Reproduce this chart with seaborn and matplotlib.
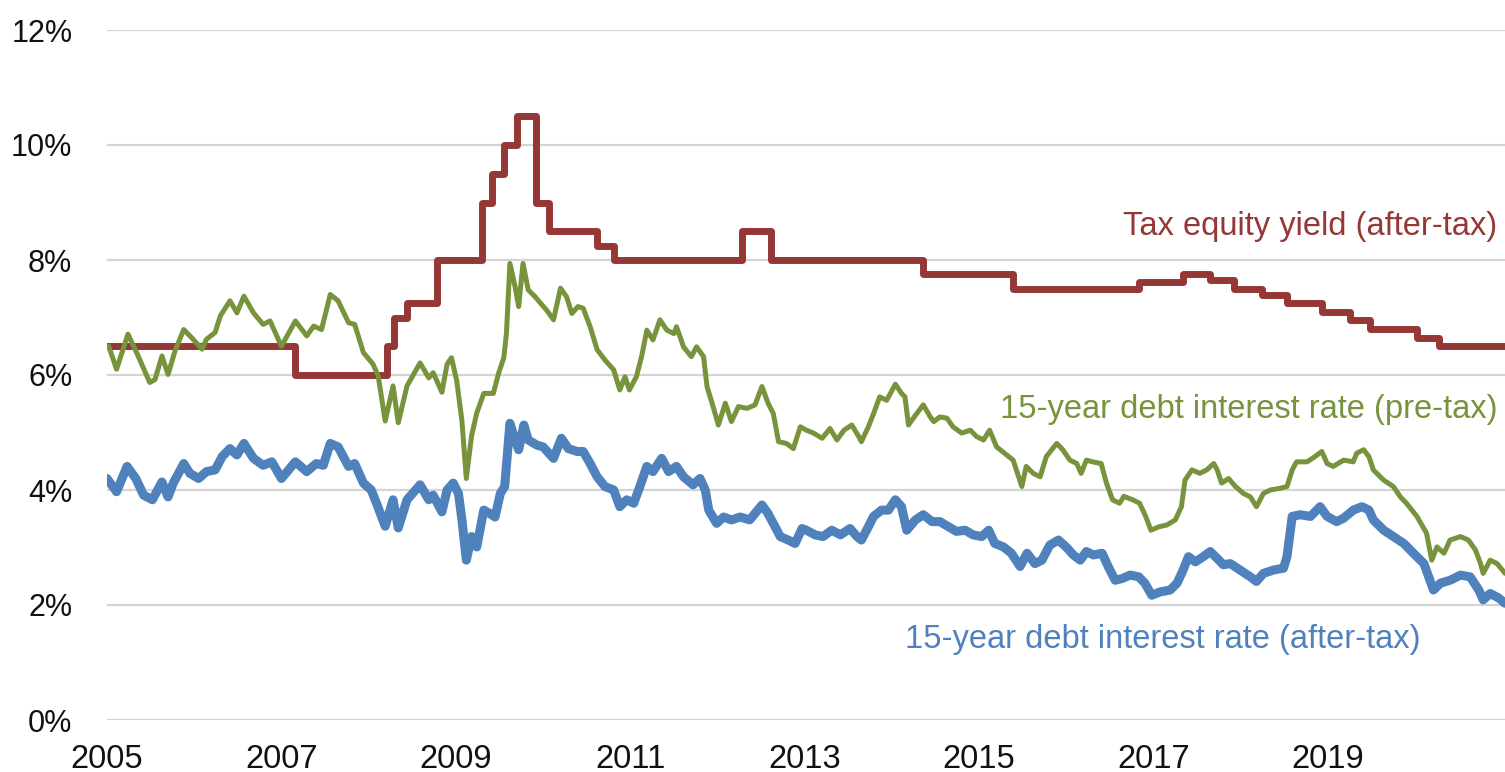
import pandas as pd
import matplotlib.pyplot as plt
import seaborn as sns

sns.set_style("white")
plt.rcParams['font.family'] = ['Liberation Sans', 'DejaVu Sans']

# tax equity yield (after-tax), step changes: year where the level starts
equity_years = [2005.0, 2007.15, 2008.21, 2008.29, 2008.44, 2008.78, 2009.30, 2009.41,
                2009.55, 2009.70, 2009.92, 2010.07, 2010.62, 2010.81, 2012.28, 2012.61,
                2014.36, 2015.39, 2016.83, 2017.34, 2017.65, 2017.92, 2018.24, 2018.53,
                2018.93, 2019.25, 2019.48, 2020.02, 2020.27, 2021.03]
equity_rate = [6.5, 6.0, 6.5, 7.0, 7.25, 8.0, 9.0, 9.5,
               10.0, 10.5, 9.0, 8.5, 8.25, 8.0, 8.5, 8.0,
               7.75, 7.5, 7.62, 7.75, 7.65, 7.5, 7.4, 7.25,
               7.1, 6.95, 6.8, 6.65, 6.5, 6.5]

# 15-year debt interest rate (pre-tax)
pre_years = [2005.02, 2005.11, 2005.24, 2005.34, 2005.49, 2005.55, 2005.63, 2005.70, 2005.78, 2005.88,
             2005.97, 2006.09, 2006.14, 2006.24, 2006.30, 2006.41, 2006.49, 2006.57, 2006.68, 2006.79,
             2006.87, 2007.00, 2007.16, 2007.29, 2007.37, 2007.46, 2007.56, 2007.65, 2007.77, 2007.84,
             2007.94, 2008.05, 2008.11, 2008.19, 2008.28, 2008.34, 2008.44, 2008.59, 2008.69, 2008.74,
             2008.84, 2008.90, 2008.95, 2009.01, 2009.07, 2009.12, 2009.18, 2009.24, 2009.32, 2009.43,
             2009.49, 2009.55, 2009.58, 2009.62, 2009.68, 2009.72, 2009.77, 2009.83, 2009.91, 2009.97,
             2010.04, 2010.12, 2010.20, 2010.27, 2010.33, 2010.40, 2010.46, 2010.54, 2010.62, 2010.71,
             2010.81, 2010.88, 2010.94, 2010.99, 2011.07, 2011.13, 2011.19, 2011.26, 2011.34, 2011.42,
             2011.50, 2011.53, 2011.61, 2011.70, 2011.76, 2011.84, 2011.88, 2011.95, 2012.01, 2012.09,
             2012.16, 2012.24, 2012.34, 2012.43, 2012.51, 2012.58, 2012.64, 2012.70, 2012.79, 2012.87,
             2012.95, 2013.02, 2013.10, 2013.20, 2013.29, 2013.37, 2013.45, 2013.54, 2013.62, 2013.65,
             2013.73, 2013.79, 2013.86, 2013.94, 2014.04, 2014.11, 2014.15, 2014.19, 2014.27, 2014.36,
             2014.44, 2014.48, 2014.55, 2014.63, 2014.70, 2014.80, 2014.90, 2014.97, 2015.05, 2015.12,
             2015.20, 2015.29, 2015.39, 2015.49, 2015.54, 2015.62, 2015.70, 2015.77, 2015.89, 2015.96,
             2016.04, 2016.12, 2016.17, 2016.23, 2016.30, 2016.40, 2016.46, 2016.53, 2016.61, 2016.66,
             2016.76, 2016.84, 2016.91, 2016.97, 2017.06, 2017.15, 2017.25, 2017.32, 2017.36, 2017.44,
             2017.53, 2017.61, 2017.69, 2017.73, 2017.78, 2017.86, 2017.94, 2018.03, 2018.11, 2018.18,
             2018.26, 2018.34, 2018.45, 2018.53, 2018.59, 2018.64, 2018.76, 2018.85, 2018.93, 2018.99,
             2019.06, 2019.18, 2019.29, 2019.33, 2019.41, 2019.47, 2019.52, 2019.64, 2019.75, 2019.83,
             2019.90, 2020.02, 2020.13, 2020.19, 2020.25, 2020.33, 2020.40, 2020.52, 2020.61, 2020.69,
             2020.75, 2020.78, 2020.86, 2020.94, 2021.03]
pre_rate = [6.50, 6.10, 6.71, 6.39, 5.87, 5.92, 6.33, 6.01, 6.42, 6.79,
            6.65, 6.45, 6.62, 6.74, 7.03, 7.29, 7.08, 7.37, 7.08, 6.88,
            6.94, 6.50, 6.94, 6.68, 6.85, 6.79, 7.40, 7.29, 6.91, 6.88,
            6.39, 6.19, 5.98, 5.20, 5.81, 5.17, 5.81, 6.21, 5.95, 6.04,
            5.70, 6.19, 6.30, 5.90, 5.20, 4.20, 4.94, 5.34, 5.68, 5.68,
            6.03, 6.30, 6.72, 7.94, 7.53, 7.19, 7.94, 7.48, 7.36, 7.25,
            7.13, 6.96, 7.51, 7.36, 7.07, 7.19, 7.16, 6.84, 6.44, 6.26,
            6.09, 5.74, 5.97, 5.74, 5.97, 6.32, 6.78, 6.61, 6.96, 6.78,
            6.72, 6.84, 6.49, 6.32, 6.49, 6.32, 5.80, 5.45, 5.13, 5.51,
            5.19, 5.45, 5.42, 5.48, 5.80, 5.51, 5.33, 4.84, 4.81, 4.72,
            5.10, 5.04, 4.99, 4.90, 5.07, 4.87, 5.04, 5.13, 4.93, 4.84,
            5.10, 5.33, 5.62, 5.56, 5.84, 5.68, 5.62, 5.13, 5.30, 5.48,
            5.27, 5.19, 5.27, 5.25, 5.10, 4.99, 5.04, 4.93, 4.87, 5.04,
            4.75, 4.64, 4.52, 4.06, 4.41, 4.29, 4.23, 4.58, 4.81, 4.70,
            4.52, 4.46, 4.29, 4.52, 4.49, 4.46, 4.12, 3.83, 3.77, 3.89,
            3.83, 3.77, 3.54, 3.30, 3.36, 3.39, 3.48, 3.71, 4.17, 4.35,
            4.29, 4.35, 4.46, 4.35, 4.12, 4.20, 4.06, 3.94, 3.88, 3.71,
            3.94, 4.00, 4.03, 4.06, 4.35, 4.49, 4.49, 4.58, 4.67, 4.46,
            4.41, 4.52, 4.49, 4.64, 4.70, 4.58, 4.35, 4.17, 4.06, 3.88,
            3.77, 3.54, 3.25, 2.78, 3.01, 2.90, 3.13, 3.19, 3.13, 2.96,
            2.72, 2.55, 2.78, 2.72, 2.55]

# 15-year debt interest rate (after-tax)
post_years = [2005.00, 2005.11, 2005.23, 2005.33, 2005.42, 2005.52, 2005.63, 2005.70, 2005.76, 2005.88,
              2005.95, 2006.05, 2006.14, 2006.24, 2006.32, 2006.41, 2006.49, 2006.57, 2006.68, 2006.79,
              2006.89, 2007.00, 2007.16, 2007.29, 2007.40, 2007.48, 2007.56, 2007.65, 2007.77, 2007.84,
              2007.94, 2008.03, 2008.09, 2008.19, 2008.28, 2008.34, 2008.44, 2008.59, 2008.69, 2008.74,
              2008.84, 2008.90, 2008.97, 2009.03, 2009.07, 2009.12, 2009.18, 2009.24, 2009.32, 2009.39,
              2009.45, 2009.51, 2009.56, 2009.62, 2009.68, 2009.72, 2009.78, 2009.83, 2009.93, 2010.00,
              2010.12, 2010.21, 2010.29, 2010.39, 2010.46, 2010.54, 2010.62, 2010.71, 2010.81, 2010.88,
              2010.96, 2011.04, 2011.11, 2011.19, 2011.26, 2011.36, 2011.44, 2011.53, 2011.61, 2011.72,
              2011.80, 2011.86, 2011.90, 2011.99, 2012.07, 2012.16, 2012.26, 2012.37, 2012.51, 2012.58,
              2012.64, 2012.72, 2012.81, 2012.89, 2012.97, 2013.02, 2013.12, 2013.21, 2013.31, 2013.41,
              2013.52, 2013.60, 2013.65, 2013.73, 2013.79, 2013.88, 2013.96, 2014.04, 2014.11, 2014.17,
              2014.27, 2014.36, 2014.46, 2014.55, 2014.65, 2014.74, 2014.84, 2014.93, 2015.03, 2015.11,
              2015.18, 2015.28, 2015.37, 2015.47, 2015.55, 2015.64, 2015.72, 2015.81, 2015.91, 2016.01,
              2016.08, 2016.16, 2016.23, 2016.31, 2016.41, 2016.48, 2016.56, 2016.64, 2016.73, 2016.83,
              2016.90, 2016.98, 2017.08, 2017.19, 2017.27, 2017.34, 2017.40, 2017.48, 2017.57, 2017.65,
              2017.73, 2017.80, 2017.88, 2017.99, 2018.11, 2018.18, 2018.26, 2018.38, 2018.49, 2018.53,
              2018.59, 2018.68, 2018.80, 2018.91, 2018.99, 2019.10, 2019.18, 2019.29, 2019.39, 2019.47,
              2019.52, 2019.64, 2019.75, 2019.87, 2019.98, 2020.10, 2020.21, 2020.29, 2020.40, 2020.52,
              2020.63, 2020.73, 2020.78, 2020.86, 2020.96, 2021.03]
post_rate = [4.20, 3.97, 4.41, 4.20, 3.91, 3.83, 4.14, 3.88, 4.12, 4.46,
             4.29, 4.20, 4.32, 4.35, 4.58, 4.72, 4.61, 4.81, 4.55, 4.43,
             4.49, 4.20, 4.49, 4.32, 4.46, 4.43, 4.81, 4.75, 4.41, 4.46,
             4.12, 4.00, 3.77, 3.37, 3.83, 3.34, 3.83, 4.09, 3.83, 3.91,
             3.62, 4.00, 4.12, 3.94, 3.48, 2.78, 3.19, 3.01, 3.65, 3.59,
             3.53, 3.94, 4.06, 5.16, 4.87, 4.70, 5.13, 4.87, 4.78, 4.75,
             4.55, 4.90, 4.72, 4.67, 4.67, 4.46, 4.23, 4.06, 4.00, 3.71,
             3.83, 3.77, 4.06, 4.41, 4.32, 4.55, 4.32, 4.41, 4.23, 4.09,
             4.20, 4.00, 3.65, 3.42, 3.53, 3.48, 3.53, 3.48, 3.74, 3.59,
             3.42, 3.19, 3.13, 3.07, 3.33, 3.30, 3.22, 3.19, 3.30, 3.22,
             3.33, 3.19, 3.13, 3.36, 3.54, 3.65, 3.65, 3.83, 3.71, 3.30,
             3.48, 3.57, 3.45, 3.45, 3.36, 3.28, 3.30, 3.22, 3.19, 3.30,
             3.07, 3.01, 2.90, 2.67, 2.90, 2.72, 2.78, 3.04, 3.13, 2.99,
             2.87, 2.78, 2.93, 2.87, 2.90, 2.67, 2.43, 2.46, 2.52, 2.49,
             2.38, 2.17, 2.23, 2.26, 2.38, 2.61, 2.84, 2.75, 2.84, 2.93,
             2.81, 2.70, 2.72, 2.61, 2.49, 2.41, 2.55, 2.61, 2.64, 2.84,
             3.54, 3.57, 3.54, 3.71, 3.54, 3.45, 3.51, 3.65, 3.71, 3.65,
             3.48, 3.30, 3.19, 3.07, 2.90, 2.72, 2.26, 2.38, 2.43, 2.52,
             2.49, 2.26, 2.09, 2.20, 2.12, 2.03]

x_ticks = [2005, 2007, 2009, 2011, 2013, 2015, 2017, 2019]
y_ticks = [0, 2, 4, 6, 8, 10, 12]
y_tick_labels = ['0%', '2%', '4%', '6%', '8%', '10%', '12%']

red = '#953735'
green = '#77933C'
blue = '#4F81BD'

equity_df = pd.DataFrame({'year': equity_years, 'rate': equity_rate})
pre_df = pd.DataFrame({'year': pre_years, 'rate': pre_rate})
post_df = pd.DataFrame({'year': post_years, 'rate': post_rate})

fig = plt.figure(figsize=(15.05, 7.72), dpi=100)
ax = fig.add_axes([107 / 1505, 52 / 772, 1 - 107 / 1505, 690 / 772])

sns.lineplot(data=equity_df, x='year', y='rate', drawstyle='steps-post', color=red,
             linewidth=5, ax=ax, legend=False, zorder=3)
sns.lineplot(data=pre_df, x='year', y='rate', color=green, linewidth=3.6,
             ax=ax, legend=False, zorder=4)
sns.lineplot(data=post_df, x='year', y='rate', color=blue, linewidth=6.5,
             ax=ax, legend=False, zorder=5)

ax.set_xlim(2005, 2021.03)
ax.set_ylim(0, 12)
ax.set_xticks(x_ticks)
ax.set_xticklabels([str(y) for y in x_ticks], fontsize=23.5, color='#111111')
ax.set_yticks(y_ticks)
ax.set_yticklabels(y_tick_labels, fontsize=22, color='#111111')
ax.tick_params(axis='x', length=0, pad=17)
ax.tick_params(axis='y', length=0, pad=25)
ax.set_xlabel('')
ax.set_ylabel('')
ax.grid(axis='y', color='#d4d4d4', linewidth=1.6)
ax.grid(axis='x', visible=False)
ax.set_axisbelow(True)
for s in ax.spines.values():
    s.set_visible(False)

ax.text(2020.94, 8.43, 'Tax equity yield (after-tax)', color=red, fontsize=23.5,
        ha='right', va='baseline')
ax.text(2020.94, 5.25, '15-year debt interest rate (pre-tax)', color=green, fontsize=23.5,
        ha='right', va='baseline')
ax.text(2020.06, 1.25, '15-year debt interest rate (after-tax)', color=blue, fontsize=23.5,
        ha='right', va='baseline')

fig.savefig('out.png', dpi=100)
